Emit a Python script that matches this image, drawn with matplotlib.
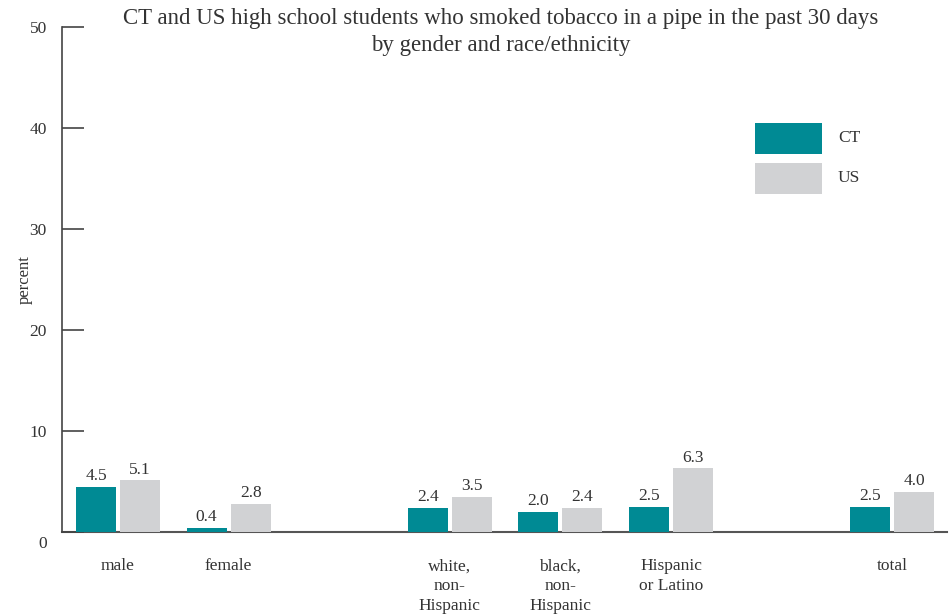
import matplotlib
matplotlib.use("Agg")
import matplotlib.pyplot as plt
import matplotlib.transforms as mtransforms
from matplotlib.patches import Rectangle

categories = ["male", "female", "white,\nnon-\nHispanic", "black,\nnon-\nHispanic", "Hispanic\nor Latino", "total"]
slots = [0, 1, 3, 4, 5, 7]
ct_values = [4.5, 0.4, 2.4, 2.0, 2.5, 2.5]
us_values = [5.1, 2.8, 3.5, 2.4, 6.3, 4.0]
y_ticks = [0, 10, 20, 30, 40, 50]
series_names = ["CT", "US"]

CT_COLOR = "#008A94"
US_COLOR = "#D1D2D4"
TEXT = "#333333"
plt.rcParams['font.family'] = ['Liberation Serif', 'DejaVu Serif']

W, H = 952, 614
fig = plt.figure(figsize=(W/100, H/100), dpi=100)
ax = fig.add_axes([62/W, 1-532/H, (947-62)/W, (532-27)/H])

w = 0.362
off = 0.199
ct_x = [s - off for s in slots]
us_x = [s + off for s in slots]
ax.bar(ct_x, ct_values, width=w, color=CT_COLOR, zorder=2)
ax.bar(us_x, us_values, width=w, color=US_COLOR, zorder=2)

for xs, vals in ((ct_x, ct_values), (us_x, us_values)):
    for x, v in zip(xs, vals):
        ax.annotate(f"{v:.1f}", (x, v), xytext=(0, 2), textcoords="offset points",
                    ha="center", va="bottom", fontsize=12.5, color=TEXT)

ax.set_xlim(-0.506, 7.495)
ax.set_ylim(0, 50)
ax.set_yticks(y_ticks)
ax.set_yticklabels([str(t) for t in y_ticks], fontsize=12.5, color=TEXT)
ax.tick_params(axis="y", direction="in", length=16, width=1.2, color="#444444", pad=11)
for lbl in ax.get_yticklabels():
    if lbl.get_text() == "0":
        lbl.set_transform(lbl.get_transform() + mtransforms.ScaledTranslation(0, -10/100, fig.dpi_scale_trans))

ax.set_xticks(slots)
ax.set_xticklabels(categories, fontsize=12.5, color=TEXT, linespacing=1.3, va="top")
ax.tick_params(axis="x", length=0, pad=19)

for s in ["top", "right"]:
    ax.spines[s].set_visible(False)
ax.spines["left"].set_color("#444444")
ax.spines["left"].set_linewidth(1.2)
ax.spines["bottom"].set_color("#555555")
ax.spines["bottom"].set_linewidth(1.5)
ax.spines["bottom"].set_zorder(1)

ax.set_ylabel("percent", fontsize=12, color=TEXT)
ax.yaxis.set_label_coords((33-62)/(947-62), (532-280)/(532-27))

fig.text(501/W, 1-8/H, "CT and US high school students who smoked tobacco in a pipe in the past 30 days\nby gender and race/ethnicity",
         ha="center", va="top", fontsize=16.5, color=TEXT, linespacing=1.4)

# legend drawn as figure patches (pixel placement)
for name, color, top in ((series_names[0], CT_COLOR, 123), (series_names[1], US_COLOR, 163)):
    fig.patches.append(Rectangle((755/W, 1-(top+30.5)/H), 67/W, 30.5/H, transform=fig.transFigure,
                                 facecolor=color, edgecolor="none"))
    fig.text(838/W, 1-(top+15)/H, name, ha="left", va="center", fontsize=12.5, color=TEXT)

fig.savefig("out.png", dpi=100)
